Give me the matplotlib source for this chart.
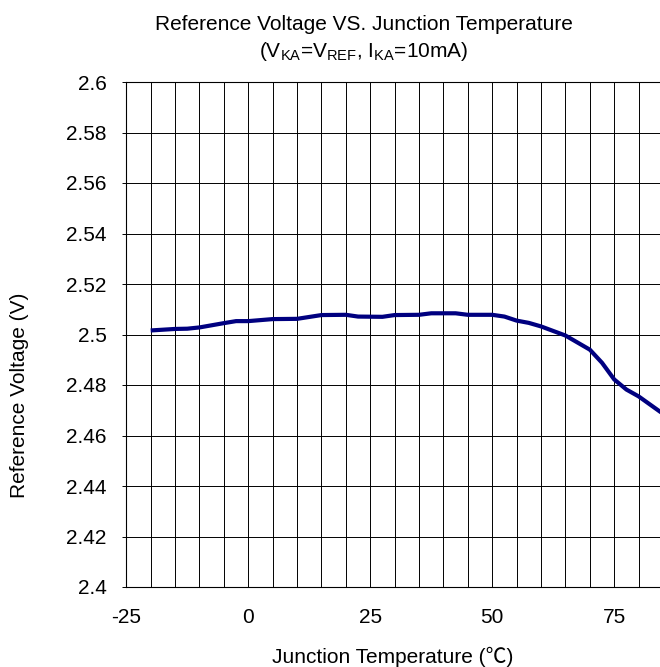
import matplotlib
matplotlib.use("Agg")
import matplotlib.pyplot as plt
import numpy as np

plt.rcParams['font.family'] = ['Liberation Sans', 'Noto Sans CJK SC', 'DejaVu Sans']
plt.rcParams['mathtext.fontset'] = 'custom'
plt.rcParams['mathtext.rm'] = 'Liberation Sans'
plt.rcParams['mathtext.it'] = 'Liberation Sans:italic'

# Data
temperature = [-20, -15, -12.5, -10, -5, -2.5, 0, 5, 10, 15, 20, 22.5, 27.5, 30,
               35, 37.5, 42.5, 45, 50, 52.5, 55, 57.5, 60, 65, 70, 72.5, 75,
               77.5, 80, 85]
vref = [2.5016, 2.5022, 2.5023, 2.5028, 2.5045, 2.5053, 2.5053, 2.5061, 2.5062,
        2.5077, 2.5078, 2.5071, 2.5070, 2.5077, 2.5078, 2.5084, 2.5084, 2.5078,
        2.5078, 2.5071, 2.5055, 2.5046, 2.5032, 2.4996, 2.4940, 2.4888, 2.4822,
        2.4782, 2.4755, 2.4686]
x_ticks = [-25, 0, 25, 50, 75]
x_tick_labels = ['-25', '0', '25', '50', '75']
y_ticks = [2.4, 2.42, 2.44, 2.46, 2.48, 2.5, 2.52, 2.54, 2.56, 2.58, 2.6]
y_tick_labels = ['2.4', '2.42', '2.44', '2.46', '2.48', '2.5', '2.52', '2.54',
                 '2.56', '2.58', '2.6']

FS = 15
W, H = 660, 667
fig = plt.figure(figsize=(W / 100, H / 100), dpi=100)
left, right, top, bottom = 126.3, 663.0, 82.0, 587.0
ax = fig.add_axes([left / W, 1 - bottom / H, (right - left) / W, (bottom - top) / H])

ax.plot(temperature, vref, color='#000080', lw=3.0, solid_joinstyle='round',
        solid_capstyle='butt', zorder=3)

ax.set_xlim(-25, 85)
ax.set_ylim(2.4, 2.6)
ax.set_xticks(x_ticks)
ax.set_xticklabels(x_tick_labels)
ax.set_xticks(np.arange(-25, 86, 5), minor=True)
ax.set_yticks(y_ticks)
ax.set_yticklabels(y_tick_labels)

ax.grid(True, which='both', axis='x', color='#000000', lw=0.7)
ax.grid(True, which='major', axis='y', color='#000000', lw=0.7)
ax.set_axisbelow(True)

ax.tick_params(axis='x', which='both', length=0, pad=15, labelsize=FS)
ax.tick_params(axis='y', which='major', length=3, width=0.7, pad=11, labelsize=FS)
for s in ax.spines.values():
    s.set_linewidth(0.8)
    s.set_color('#000000')
ax.spines['right'].set_visible(False)

fig.text(364 / W, 1 - 30 / H, 'Reference Voltage VS. Junction Temperature',
         ha='center', va='baseline', fontsize=FS)
fig.text(364 / W, 1 - 57 / H,
         r'($\mathrm{V_{KA}}$=$\mathrm{V_{REF}}$, $\mathrm{I_{KA}}$=10mA)',
         ha='center', va='baseline', fontsize=FS)
fig.text(393 / W, 1 - 663 / H, 'Junction Temperature (℃)',
         ha='center', va='baseline', fontsize=FS)
fig.text(20 / W, 1 - 395 / H, 'Reference Voltage (V)', rotation=90,
         ha='center', va='center', fontsize=FS)

fig.savefig('out.png', dpi=100)
